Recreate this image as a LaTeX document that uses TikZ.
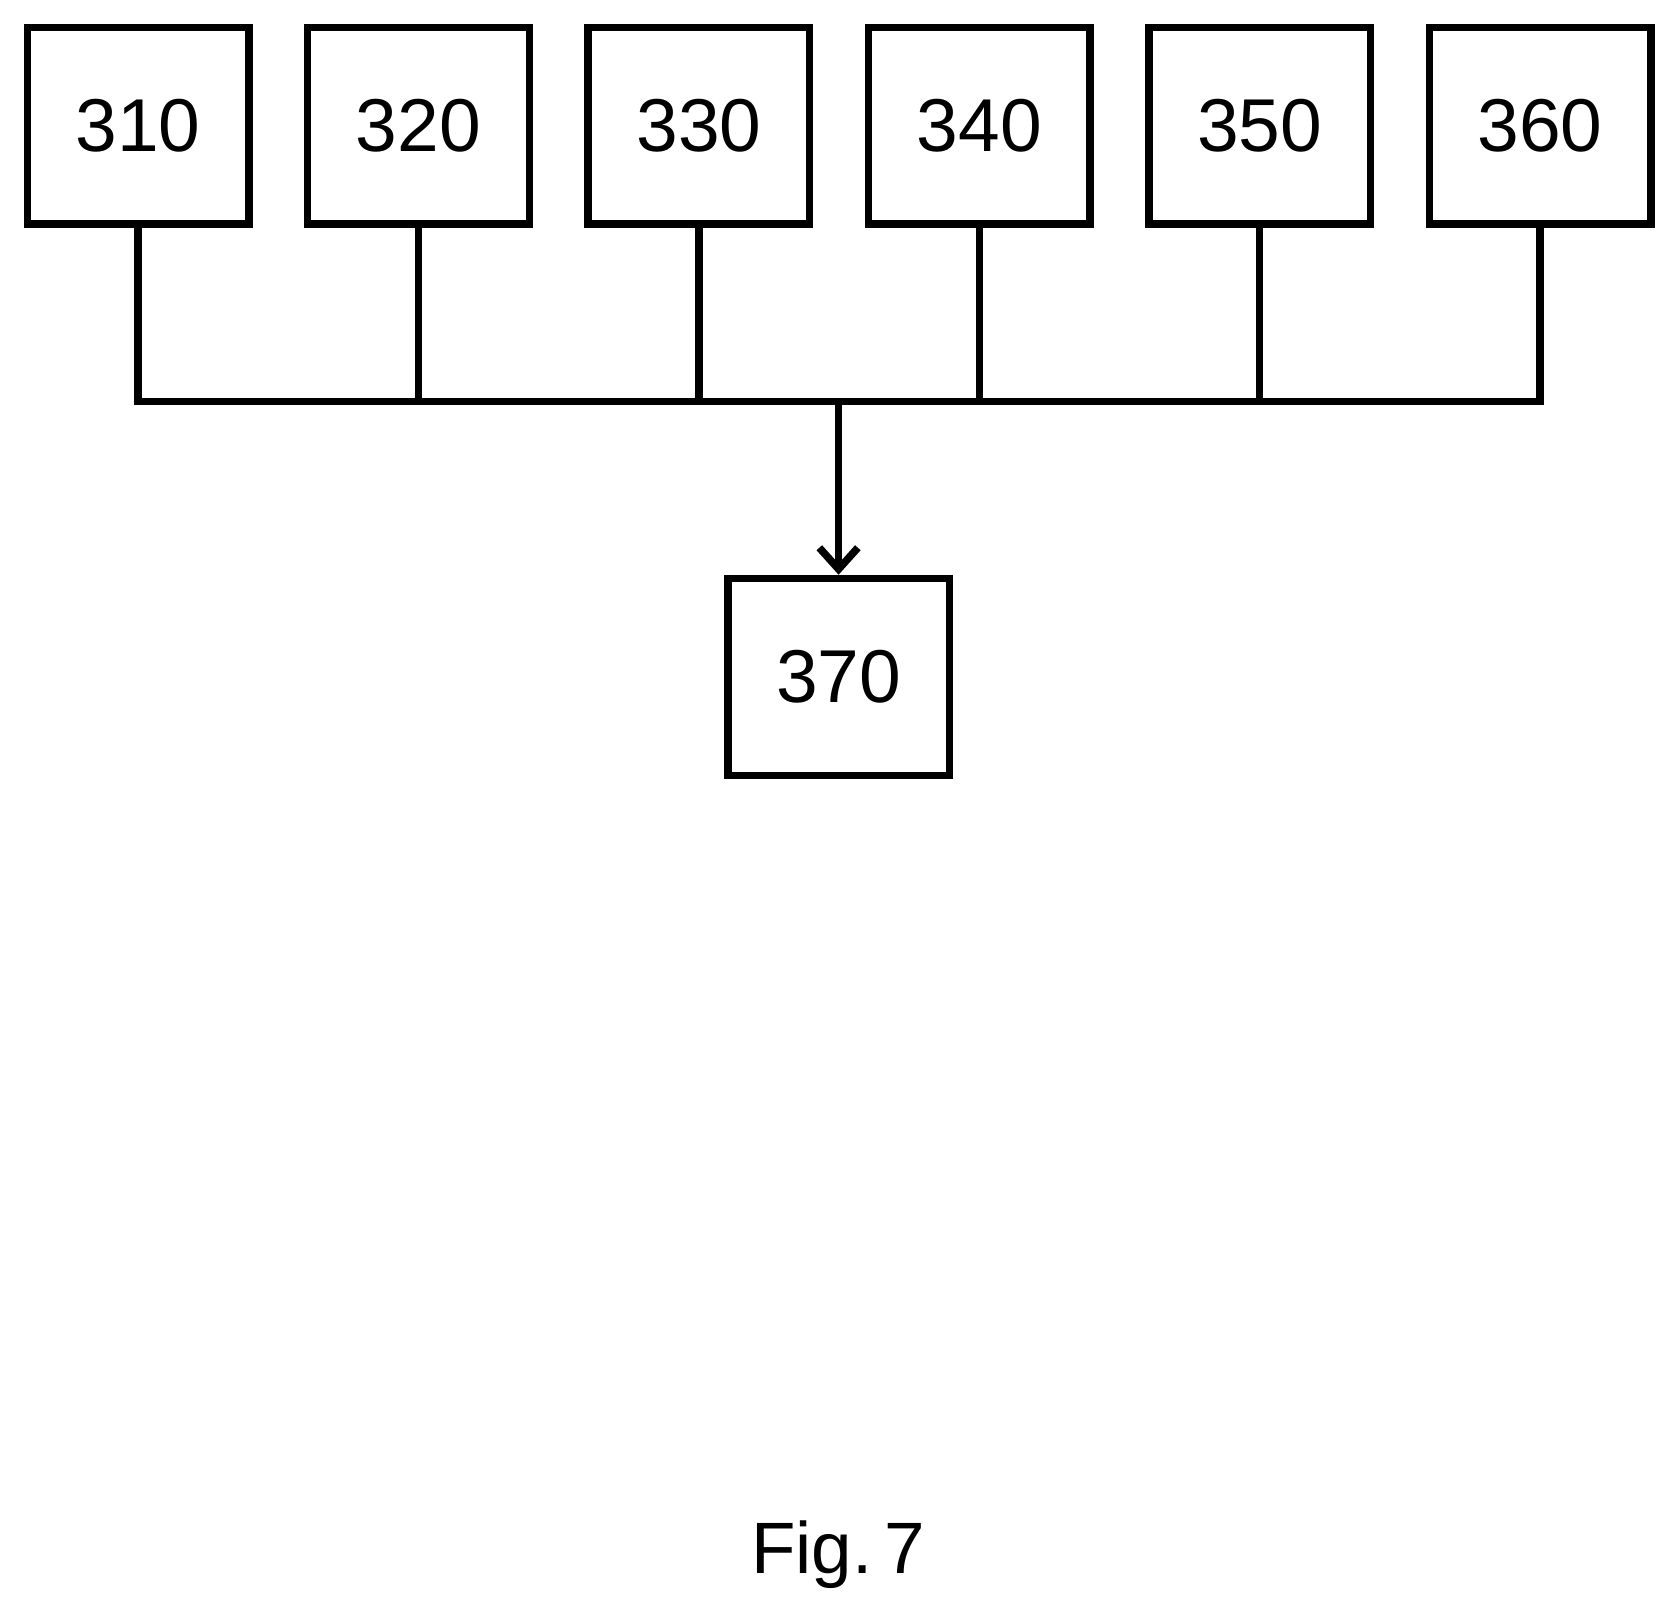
\documentclass[tikz,border=0pt]{standalone}
\usepackage{fontspec}
\setmainfont{Liberation Sans}
\usetikzlibrary{arrows.meta}
\begin{document}
\begin{tikzpicture}[x=1pt,y=-1pt,
  box/.style={draw,line width=7pt,minimum width=207pt,minimum height=184pt,inner sep=0pt,font=\fontsize{70}{74}\selectfont},
  ln/.style={line width=7pt}]
\useasboundingbox (0,0) rectangle (1565,1503);
\foreach \n/\x in {310/129,320/391,330/653,340/915,350/1177,360/1439}{
  \node[box] (b\n) at (\x,117.5) {\n};
  \coordinate (j\n) at (\x,375);
  \draw[ln] (b\n.south) -- (j\n);
}
\draw[ln] ([xshift=-3.5pt]j310) -- ([xshift=3.5pt]j360);
\node[box] (b370) at (783.5,632.5) {370};
\coordinate (jm) at (783.5,375);
\draw[ln,-{Straight Barb[length=20pt,width=36pt,line width=7pt]}] (jm) -- (b370.north);
\node[font=\fontsize{68}{72}\selectfont] (fig) at (783,1453) {Fig.\,7};
\end{tikzpicture}
\end{document}
